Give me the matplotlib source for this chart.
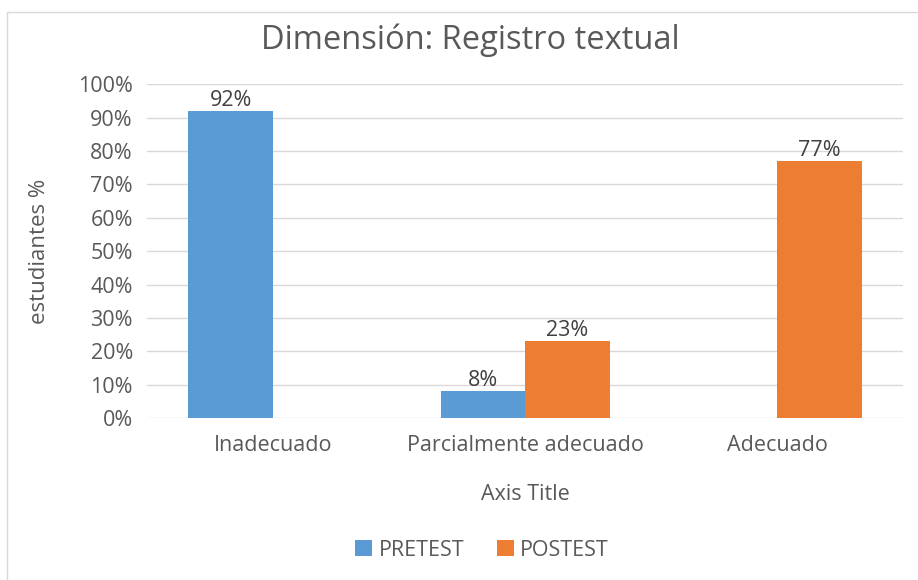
import matplotlib
matplotlib.use("Agg")
import matplotlib.pyplot as plt
import numpy as np
from matplotlib.patches import Rectangle

categories = ["Inadecuado", "Parcialmente adecuado", "Adecuado"]
pretest = [92, 8, 0]
postest = [0, 23, 77]
yticks = list(range(0, 101, 10))

COLORS = {"PRETEST": "#5B9BD5", "POSTEST": "#ED7D31"}
TEXT = "#595959"
FS = 15.5

plt.rcParams["font.family"] = ["Open Sans", "DejaVu Sans"]

fig = plt.figure(figsize=(9.18, 5.8), dpi=100)
ax = fig.add_axes([0.160, 0.279, 0.824, 0.576])

# thin chart frame like Excel
fig.patches.append(Rectangle((0.008, -0.01), 1.0, 0.99, transform=fig.transFigure,
                             fill=False, edgecolor="#D9D9D9", linewidth=1))

x = np.arange(len(categories))
width = 0.335
for i, (name, vals) in enumerate([("PRETEST", pretest), ("POSTEST", postest)]):
    offset = (i - 0.5) * width
    bars = ax.bar(x + offset, vals, width, label=name, color=COLORS[name], zorder=3)
    labels = [f"{v}%" if v > 0 else "" for v in vals]
    ax.bar_label(bars, labels=labels, padding=0, fontsize=FS, color="#404040")

ax.set_xlim(-0.5, 2.5)
ax.set_ylim(0, 100)
ax.set_yticks(yticks)
ax.set_yticklabels([f"{t}%" for t in yticks])
ax.set_xticks(x)
ax.set_xticklabels(categories)
ax.tick_params(length=0, labelsize=FS, colors=TEXT)
ax.tick_params(axis="x", pad=12)
ax.tick_params(axis="y", pad=10)
ax.grid(axis="y", color="#D9D9D9", linewidth=1, zorder=0)
for s in ax.spines.values():
    s.set_visible(False)

ax.set_ylabel("estudiantes %", fontsize=16, color=TEXT, labelpad=20)
ax.set_xlabel("Axis Title", fontsize=FS, color=TEXT, labelpad=20)
fig.text(0.512, 0.93, "Dimensión: Registro textual", fontsize=23.5, color=TEXT,
         ha="center", va="center")

fig.legend(loc="lower center", bbox_to_anchor=(0.525, 0.0), ncol=2, frameon=False,
           fontsize=FS, labelcolor=TEXT, handlelength=0.8, handleheight=0.8,
           handletextpad=0.3, columnspacing=1.5)

fig.savefig("out.png", dpi=100)
